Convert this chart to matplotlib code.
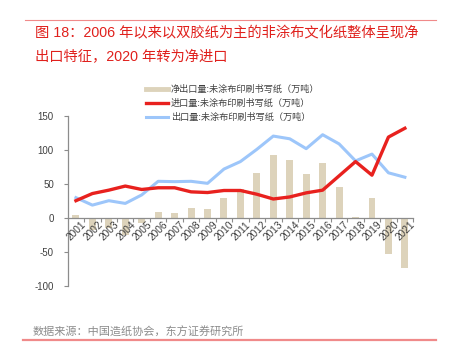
import numpy as np
import matplotlib.pyplot as plt
from matplotlib.lines import Line2D

plt.rcParams['font.family'] = ['Liberation Sans', 'Noto Sans CJK SC', 'DejaVu Sans']
plt.rcParams['axes.unicode_minus'] = False

# data (万吨)
years = [str(y) for y in range(2001, 2022)]
imports = [25.5, 36, 41, 47, 42, 44.5, 44.5, 38.5, 37.5, 40.5, 40.5,
           35, 28, 31, 37, 41, 62, 83, 63, 119, 132]
exports = [30, 19, 25.5, 21.5, 34, 54, 53.5, 54, 51, 72, 83,
           101, 120.5, 116.5, 102, 122.5, 109, 84, 94, 66.5, 60]
net = [4, -17, -15, -25.5, -8, 9, 8, 15, 13, 30, 42,
       66, 92.5, 85, 65, 81, 45.5, 1, 30, -53, -73]

title1 = '图 18：2006 年以来以双胶纸为主的非涂布文化纸整体呈现净'
title2 = '出口特征，2020 年转为净进口'
lab_net = '净出口量:未涂布印刷书写纸（万吨）'
lab_imp = '进口量:未涂布印刷书写纸（万吨）'
lab_exp = '出口量:未涂布印刷书写纸（万吨）'
source = '数据来源：中国造纸协会，东方证券研究所'

c_bar = '#ddd3bb'
c_red = '#e8211e'
c_blue = '#9dc6fa'
c_grey = '#8c8c8c'

fig = plt.figure(figsize=(4.59, 3.51), dpi=100)
ax = fig.add_axes([0.1475, 0.185, 0.7525, 0.4845])

x = np.arange(len(years))
ax.bar(x, net, width=0.42, color=c_bar, zorder=1)
ax.plot(x, exports, color=c_blue, lw=2.2, zorder=2)
ax.plot(x, imports, color=c_red, lw=2.4, zorder=3)

ax.set_xlim(-0.5, len(years) - 0.5)
ax.set_ylim(-100, 150)
ax.set_yticks([-100, -50, 0, 50, 100, 150])
ax.tick_params(axis='y', labelsize=7, colors='#404040', length=3,
               color=c_grey, width=0.8, pad=7)

for s in ['top', 'right']:
    ax.spines[s].set_visible(False)
ax.spines['left'].set_color(c_grey)
ax.spines['left'].set_linewidth(0.9)
ax.spines['bottom'].set_position(('data', 0))
ax.spines['bottom'].set_color(c_grey)
ax.spines['bottom'].set_linewidth(0.9)

ax.set_xticks(x + 0.5, minor=False)
ax.set_xticklabels([])
ax.tick_params(axis='x', length=3, color=c_grey, width=0.8)
for i, yr in enumerate(years):
    ax.text(i + 0.3, -2.5, yr, rotation=45, ha='right', va='top',
            rotation_mode='anchor', fontsize=7.3, color='#404040')

handles = [Line2D([0], [0], color=c_bar, lw=3.5),
           Line2D([0], [0], color=c_red, lw=2.4),
           Line2D([0], [0], color=c_blue, lw=2.2)]
fig.legend(handles, [lab_net, lab_imp, lab_exp], loc='upper left',
           bbox_to_anchor=(0.3, 0.782), frameon=False, fontsize=6.6,
           handlelength=2.4, handletextpad=0.3, labelspacing=0.55,
           labelcolor='#404040')

fig.text(0.076, 0.906, title1, color='#e0201c', fontsize=10.3, va='center')
fig.text(0.076, 0.838, title2, color='#e0201c', fontsize=10.3, va='center')
fig.text(0.072, 0.054, source, color='#8c8c8c', fontsize=8, va='center')

fig.add_artist(Line2D([0.055, 0.95], [0.943, 0.943], color='#f08a8a', lw=0.8))
fig.add_artist(Line2D([0.05, 0.95], [0.031, 0.031], color='#f08a8a', lw=1.6))

fig.savefig('out.png', dpi=100)
